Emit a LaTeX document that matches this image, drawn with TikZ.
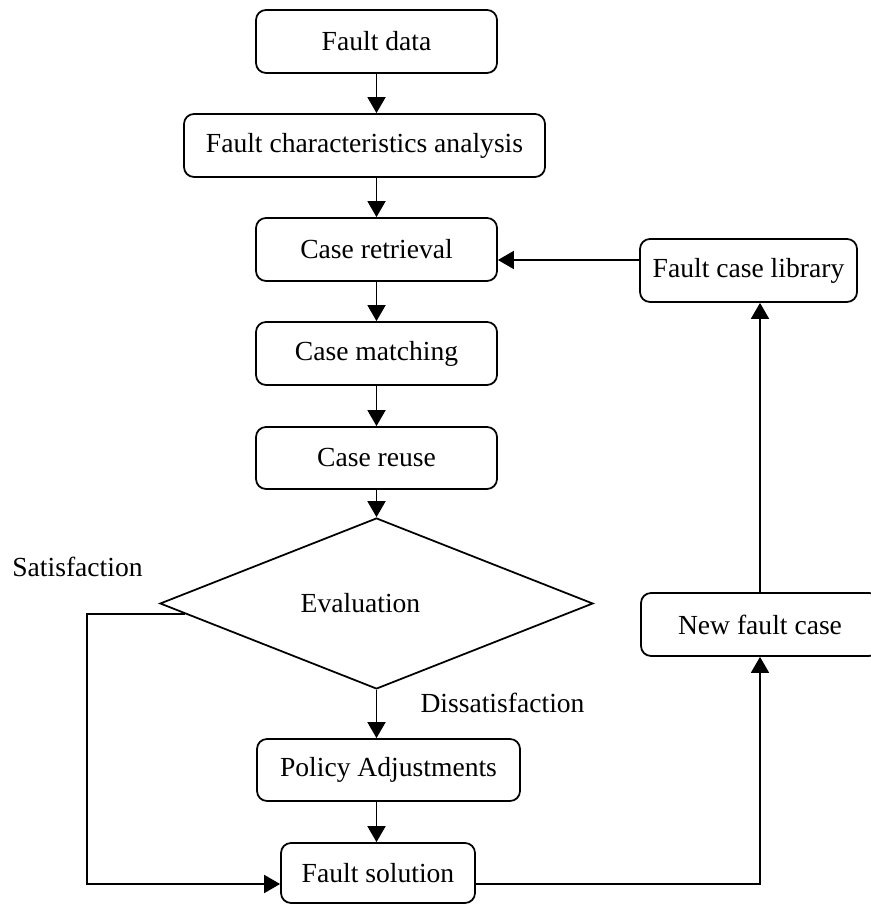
\documentclass[tikz,border=0pt]{standalone}
\usepackage{fontspec}
\setmainfont{Liberation Serif}
\usetikzlibrary{arrows.meta,positioning,calc,shapes.geometric}

\begin{document}
\begin{tikzpicture}[>={Triangle[length=0.32cm,width=0.36cm]},line width=1pt,font=\fontsize{15.7}{18}\selectfont]
\tikzstyle{b}=[draw,rounded corners=0.2cm,align=center,minimum width=4.82cm,minimum height=1.26cm]
\clip (0,0) rectangle (17.42,18.1);
\node[b] (data) at (7.53,17.27) {Fault data};
\node[b,minimum width=7.22cm] (feat) at (7.29,15.19) {Fault characteristics analysis};
\node[b] (ret) at (7.53,13.11) {Case retrieval};
\node[b] (match) at (7.53,11.03) {Case matching};
\node[b,minimum height=1.24cm] (reuse) at (7.53,8.94) {Case reuse};
\node[draw,diamond,inner sep=0pt,minimum width=8.66cm,minimum height=2.9cm] (eval) at (7.53,6.03) {Evaluation\hspace*{0.64cm}};
\node[b,minimum width=5.26cm,minimum height=1.24cm] (pol) at (7.77,2.70) {Policy Adjustments};
\node[b,minimum width=3.88cm,minimum height=1.2cm] (sol) at (7.56,0.64) {Fault solution};
\node[b,minimum width=4.34cm] (lib) at (14.97,12.69) {Fault case library};
\node[b,minimum width=4.76cm] (new) at (15.20,5.61) {New fault case};
\node (sat) at (1.55,6.76) {Satisfaction};
\node (dis) at (10.05,4.04) {Dissatisfaction};
% main chain
\draw[->] (data) -- (data |- feat.north); \draw[->] (feat.south -| ret) -- (ret);
\draw[->] (ret) -- (match); \draw[->] (match) -- (reuse); \draw[->] (reuse) -- (eval);
\draw[->] (eval.south) -- (eval.south |- pol.north); \draw[->] (eval.south |- pol.south) -- (eval.south |- sol.north);
% loops
\draw[->] ($(eval.west)!0.12!(eval.south)$) -- ++(-1.96,0) |- ([yshift=-0.22cm]sol.west);
\draw[->] ([yshift=-0.22cm]sol.east) -| (new.south);
\draw[->] (new) -- (new |- lib.south);
\draw[->] ([yshift=0.21cm]lib.west) -- ([yshift=0.21cm]lib.west -| ret.east);
\end{tikzpicture}
\end{document}
